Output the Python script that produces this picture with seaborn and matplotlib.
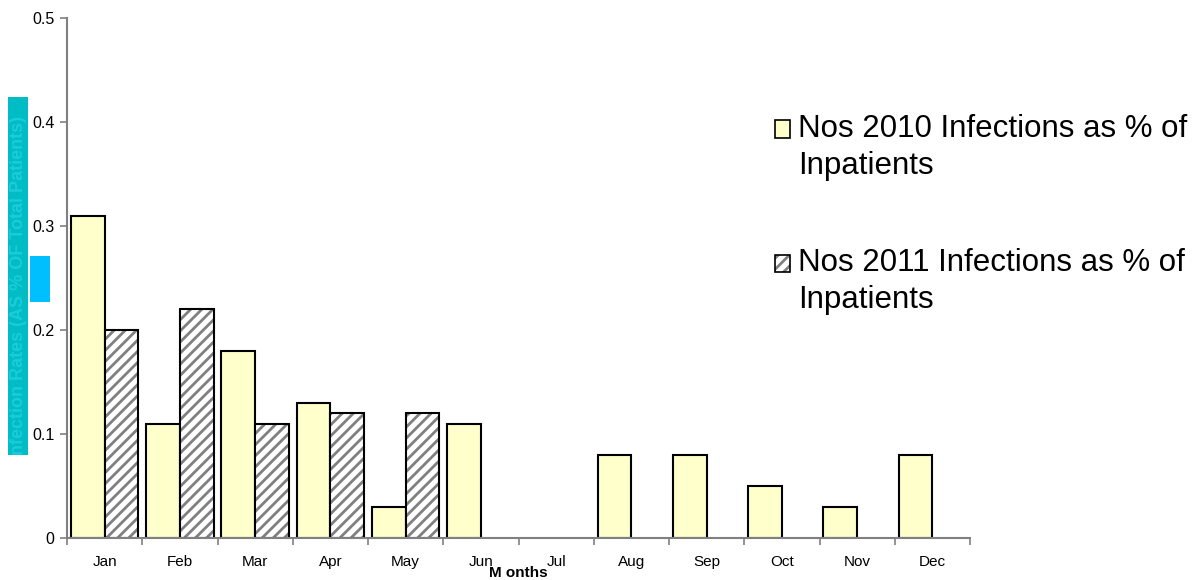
import numpy as np
import pandas as pd
import matplotlib
matplotlib.use("Agg")
import matplotlib.pyplot as plt
import matplotlib.colors as mcolors
from matplotlib.patches import Rectangle, Patch
from matplotlib.legend_handler import HandlerPatch
from matplotlib.ticker import FixedLocator, FuncFormatter
import seaborn as sns

months = ["Jan", "Feb", "Mar", "Apr", "May", "Jun", "Jul", "Aug", "Sep", "Oct", "Nov", "Dec"]
nos_2010 = [0.31, 0.11, 0.18, 0.13, 0.03, 0.11, np.nan, 0.08, 0.08, 0.05, 0.03, 0.08]
nos_2011 = [0.20, 0.22, 0.11, 0.12, 0.12, np.nan, np.nan, np.nan, np.nan, np.nan, np.nan, np.nan]
series_labels = ["Nos 2010 Infections as % of\nInpatients", "Nos 2011 Infections as % of\nInpatients"]
y_ticks = [0, 0.1, 0.2, 0.3, 0.4, 0.5]
y_label = "Infection Rates (AS % OF Total Patients)"
x_label = "M onths"

sns.set_theme(style="white")
plt.rcParams["font.family"] = ["Liberation Sans", "DejaVu Sans"]
plt.rcParams["hatch.linewidth"] = 2.0

df = pd.DataFrame({
    "month": months * 2,
    "value": nos_2010 + nos_2011,
    "series": [series_labels[0]] * len(months) + [series_labels[1]] * len(months),
})

W, H = 1194, 580
fig = plt.figure(figsize=(W / 100, H / 100), dpi=100)
fig.patch.set_facecolor("white")
ax = fig.add_axes([67 / W, 1 - 538 / H, (970 - 67) / W, (538 - 18) / H])

sns.barplot(data=df, x="month", y="value", hue="series", order=months,
            hue_order=series_labels, palette=["#ffffcc", "white"], width=0.9,
            saturation=1, edgecolor="black", linewidth=1.5, ax=ax, legend=False)

gray = mcolors.to_rgba("#808080")
for p in ax.containers[1]:
    p.set_hatch("///")
    p.set_edgecolor("black")
    p._hatch_color = gray

ax.set_xlim(-0.5, len(months) - 0.5)
ax.set_ylim(0, 0.5)
ax.set_yticks(y_ticks)
ax.yaxis.set_major_formatter(FuncFormatter(lambda v, pos: "0" if v == 0 else f"{v:.1f}"))
ax.xaxis.set_minor_locator(FixedLocator(np.arange(-0.5, len(months), 1.0)))
ax.tick_params(axis="x", which="major", length=0, labelsize=11, pad=12, labelcolor="black")
ax.tick_params(axis="x", which="minor", length=5, width=1.2, color="#808080", direction="out", bottom=True)
ax.tick_params(axis="y", length=5, width=1.2, color="#808080", direction="out", left=True,
               labelsize=11.5, pad=4, labelcolor="black")
for s in ["top", "right"]:
    ax.spines[s].set_visible(False)
for s in ["left", "bottom"]:
    ax.spines[s].set_color("#808080")
    ax.spines[s].set_linewidth(1.5)
ax.set_xlabel(x_label, fontsize=11, fontweight="bold", labelpad=-2, color="black")
ax.set_ylabel("")

# legend
class TopHandler(HandlerPatch):
    def __init__(self, shift):
        super().__init__()
        self.shift = shift

    def create_artists(self, legend, orig_handle, xdescent, ydescent, width, height, fontsize, trans):
        p = Rectangle((-xdescent, -ydescent + self.shift), width, height)
        self.update_prop(p, orig_handle, legend)
        p.set_transform(trans)
        return [p]

fs = 22.5
ls = 1.3
h1 = Patch(facecolor="#ffffcc", edgecolor="black", linewidth=1.2)
h2 = Patch(facecolor="white", edgecolor="black", linewidth=1.2, hatch="///")
h2._hatch_color = gray
shift = 13.5
leg = fig.legend([h1, h2], series_labels, loc="upper left",
                 bbox_to_anchor=(775 / W, 1 - 114 / H), bbox_transform=fig.transFigure,
                 frameon=False, fontsize=fs, borderpad=0, borderaxespad=0,
                 handlelength=0.47, handleheight=0.47,
                 handletextpad=0.28, labelspacing=2.15,
                 handler_map={h1: TopHandler(shift), h2: TopHandler(shift)})
for t in leg.get_texts():
    t.set_linespacing(ls)
    t.set_color("black")

# y-axis label box
box = Rectangle((8 / W, 1 - 455 / H), 20 / W, (455 - 97) / H, transform=fig.transFigure,
                facecolor="#00bcc4", edgecolor="none")
fig.patches.append(box)
t = fig.text(18.5 / W, 1 - 460 / H, y_label, rotation=90, ha="center", va="bottom",
             fontsize=13, fontweight="bold", color="#1ccbdc", transform=fig.transFigure)
t.set_clip_path(box)
fig.patches.append(Rectangle((30 / W, 1 - 302 / H), 20 / W, 46 / H, transform=fig.transFigure,
                             facecolor="#00bfff", edgecolor="none"))

fig.savefig("out.png", dpi=100)
